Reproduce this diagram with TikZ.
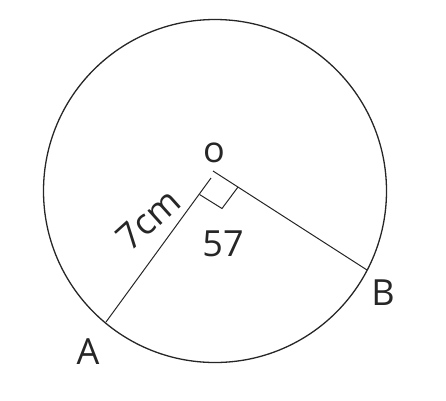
\documentclass[tikz,border=0pt]{standalone}
\usepackage{fontspec}
\setmainfont{Open Sans}
\begin{document}
\begin{tikzpicture}[x=1pt,y=-1pt,
  seg/.style={line width=1pt, black!85},
  rim/.style={line width=1.3pt, black!85},
  lbl/.style={font=\fontsize{36}{40}\selectfont, inner sep=0pt, text=black!85}]
\useasboundingbox (0,0) rectangle (446,400);
\coordinate (C) at (215,191);
\draw[rim] (C) circle (171.5pt);
\coordinate (A) at (106,322);
\coordinate (Ae) at (211,178);
\coordinate (Bs) at (213,171);
\coordinate (B) at (367,270);
\draw[seg] (A) -- (Ae);
\draw[seg] (Bs) -- (B);
\coordinate (P1) at (199.5,194.5);
\coordinate (P2) at (222,208.5);
\coordinate (P3) at (238,187);
\draw[seg] (P1) -- (P2) -- (P3);
\node[lbl] (lo) at (214,153) {o};
\node[lbl] (lA) at (88,352) {A};
\node[lbl] (lB) at (383,293) {B};
\node[lbl] (l57) at (223,244) {57};
\node[lbl, rotate=42] (l7) at (148,219) {7cm};
\end{tikzpicture}
\end{document}
